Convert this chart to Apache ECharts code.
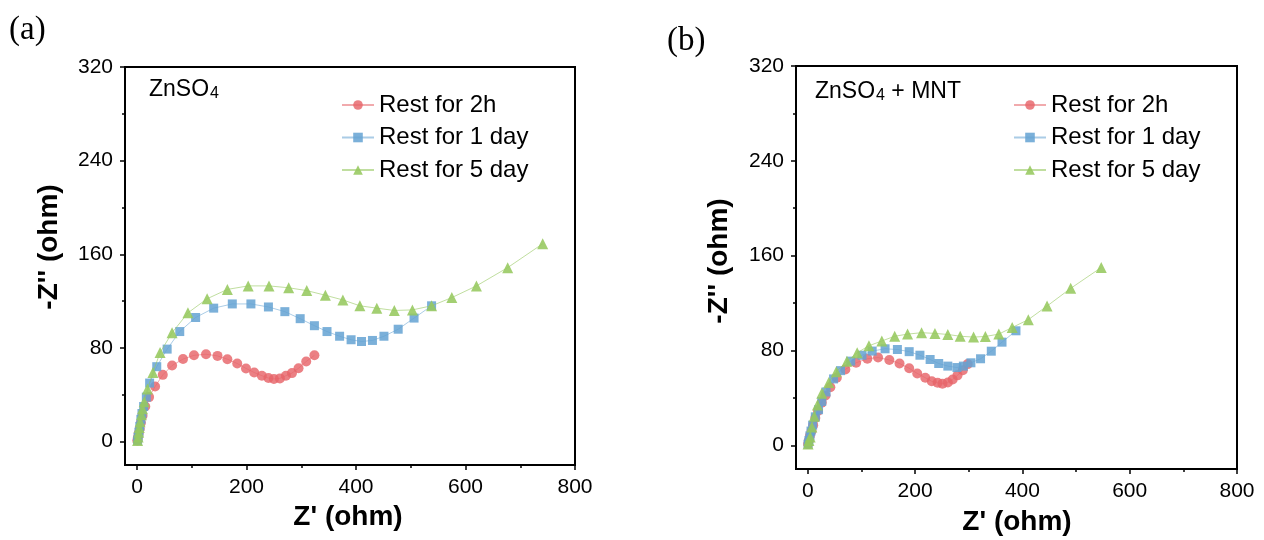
<!DOCTYPE html>
<html>
<head>
<meta charset="utf-8">
<script src="https://cdn.jsdelivr.net/npm/echarts@6/dist/echarts.min.js"></script>
<style>
html,body{margin:0;padding:0;background:#fff;}
#c{width:1264px;height:540px;}
</style>
</head>
<body>
<div id="c"></div>
<script>
// ---- data ----
const seriesNames = ['Rest for 2h', 'Rest for 1 day', 'Rest for 5 day'];
const xTicks = [0, 200, 400, 600, 800];
const xMinorTicks = [100, 300, 500, 700];
const yTicks = [0, 80, 160, 240, 320];
const yMinorTicks = [40, 120, 200, 280];

// (a) ZnSO4
const a2h = [[0.5,1],[1.5,3.5],[3,7],[5,11],[7,16],[10,22],[15,30],[22,38],[33,47],[47,57],[64,65],[84,70.5],[104,73.7],[126,74.6],[147,73.2],[165,70.4],[183,66.7],[199,62.5],[214,59],[228,56.3],[240,54.3],[250,53.5],[261,54],[272,56.3],[283,58.5],[295,62.7],[309,68.4],[324,73.7]];
const a1d = [[1,1],[2,4],[3.5,8],[5,13],[7,19],[9,24],[12,30],[17,38],[23,50],[36,64],[55,79],[78,94],[107,106],[140,114],[174,117.6],[208,117.6],[240,115],[270,111],[298,105],[324,99],[347,94],[370,90],[391,87],[410,85.5],[430,86.4],[451,90],[477,96],[506,105.5],[538,116]];
const a5d = [[1,1],[2,4],[3,8],[4,12],[5.5,17],[8,23],[10,28],[13,34],[19,45],[29,59],[42,76],[64,93],[93,110],[128,122],[165,130],[203,133],[241,133],[277,131.4],[310,129],[344,125],[376,121],[407,116],[438,114],[470,112],[503,112.5],[538,116],[575,123],[620,133],[677,148.6],[741,169]];

// (b) ZnSO4 + MNT
const b2h = [[0.5,1],[2,4],[4,8],[7,12],[10,17],[14,23],[19,29],[26,36],[33,42],[42,49],[54,57],[70,64],[90,69.6],[111,73],[131,74],[152,72],[171,69],[189,65],[204,60.6],[219,57],[231,54],[242,52.7],[251,52],[261,53],[270,55.5],[279,59],[289,63.4],[298,68.5]];
const b1d = [[0.5,1],[2,4],[4,8],[6,12],[9,17],[14,24],[20,30],[26,37],[34,45],[48,56],[61,63],[80,71],[101,76],[120,79.5],[144,81.4],[167,80.8],[189,79],[209,76],[228,72.4],[244,69],[261,66.8],[278,65.6],[290,66.8],[304,69.6],[322,73],[342,79.4],[362,87],[388,96.6]];
const b5d = [[0.5,1],[2,4],[4.4,7],[7.5,15.5],[12,24.5],[18,34],[26,44],[39,53],[53,62],[73,71],[92,78],[114,84],[138,88],[162,92],[186,93.8],[212,95],[237,94.4],[261,93.5],[284,92],[309,91.3],[331,91.8],[356,93.8],[381,99.4],[411,106],[446,117.5],[490,132.4],[547,150]];

// ---- styling ----
const FONT = 'Liberation Sans, Arial, sans-serif';
const styles = [
  {symbol:'circle', size:10, color:'rgba(230,100,105,0.82)', line:'rgba(230,100,105,0.55)'},
  {symbol:'rect', size:9, color:'rgba(100,162,210,0.85)', line:'rgba(100,162,210,0.55)'},
  {symbol:'triangle', size:11, color:'rgba(150,200,95,0.88)', line:'rgba(150,200,95,0.6)'}
];
const X_MIN = -22, X_MAX = 800, Y_MIN = -20, Y_MAX = 320;

const grids = [
  {left:125, top:67, width:450, height:398, show:true, borderColor:'#000', borderWidth:2, backgroundColor:'transparent'},
  {left:796, top:66, width:441, height:403, show:true, borderColor:'#000', borderWidth:2, backgroundColor:'transparent'}
];

function majorX(g){
  return {type:'value', gridIndex:g, position:'bottom', min:X_MIN, max:X_MAX,
    axisLine:{show:true, onZero:false, lineStyle:{color:'#000', width:2}},
    axisTick:{show:true, customValues:xTicks, length:5, lineStyle:{color:'#000', width:1.5}},
    axisLabel:{show:true, customValues:xTicks, margin:12, color:'#000', fontSize:21, fontFamily:FONT},
    splitLine:{show:false}};
}
function minorX(g){
  return {type:'value', gridIndex:g, position:'bottom', min:X_MIN, max:X_MAX,
    axisLine:{show:false, onZero:false},
    axisTick:{show:true, customValues:xMinorTicks, length:3, lineStyle:{color:'#000', width:1.5}},
    axisLabel:{show:false}, splitLine:{show:false}};
}
function majorY(g){
  return {type:'value', gridIndex:g, position:'left', min:Y_MIN, max:Y_MAX,
    axisLine:{show:true, onZero:false, lineStyle:{color:'#000', width:2}},
    axisTick:{show:true, customValues:yTicks, length:5, lineStyle:{color:'#000', width:1.5}},
    axisLabel:{show:true, customValues:yTicks, margin:12, color:'#000', fontSize:21, fontFamily:FONT},
    splitLine:{show:false}};
}
function minorY(g){
  return {type:'value', gridIndex:g, position:'left', min:Y_MIN, max:Y_MAX,
    axisLine:{show:false, onZero:false},
    axisTick:{show:true, customValues:yMinorTicks, length:3, lineStyle:{color:'#000', width:1.5}},
    axisLabel:{show:false}, splitLine:{show:false}};
}

const panelData = [[a2h, a1d, a5d], [b2h, b1d, b5d]];
const series = [];
panelData.forEach((arrs, g) => {
  arrs.forEach((d, i) => {
    const s = styles[i];
    series.push({
      type:'line', name:seriesNames[i], xAxisIndex:g*2, yAxisIndex:g*2,
      data:d, symbol:s.symbol, symbolSize:s.size, showSymbol:true,
      itemStyle:{color:s.color, borderWidth:0},
      lineStyle:{color:s.line, width:1},
      emphasis:{disabled:true}, animation:false, z:2+i
    });
  });
});

function legend(left){
  return {orient:'vertical', left:left, top:88, itemWidth:32, itemHeight:12, itemGap:8.5,
    data:seriesNames, selectedMode:false,
    textStyle:{color:'#000', fontSize:24, fontFamily:FONT, lineHeight:22}};
}

function yTitle(x, y){
  return {type:'text', x:x, y:y, rotation:Math.PI/2,
    style:{text:"-Z'' (ohm)", fontSize:28, fontWeight:'bold', fontFamily:FONT, fill:'#000', align:'center', verticalAlign:'middle'}};
}
function xTitle(x, y){
  return {type:'text', x:x, y:y,
    style:{text:"Z' (ohm)", fontSize:28, fontWeight:'bold', fontFamily:FONT, fill:'#000', align:'center', verticalAlign:'middle'}};
}
const richSub = {
  a:{fontSize:23, fontFamily:FONT, lineHeight:24, verticalAlign:'top', fill:'#000'},
  b:{fontSize:16, fontFamily:FONT, lineHeight:16, padding:[13,0,0,1], verticalAlign:'bottom', fill:'#000'}
};

const option = {
  backgroundColor:'#fff',
  animation:false,
  grid:grids,
  xAxis:[majorX(0), minorX(0), majorX(1), minorX(1)],
  yAxis:[majorY(0), minorY(0), majorY(1), minorY(1)],
  legend:[legend(336), legend(1008)],
  series:series,
  graphic:[
    {type:'text', left:9, top:14, style:{text:'(a)', fontSize:33, fontFamily:'Liberation Serif, Times New Roman, serif', fill:'#000'}},
    {type:'text', left:667, top:25, style:{text:'(b)', fontSize:33, fontFamily:'Liberation Serif, Times New Roman, serif', fill:'#000'}},
    yTitle(49, 247), yTitle(719, 261),
    xTitle(348, 517), xTitle(1017, 522),
    {type:'text', x:149, y:78, style:{text:'{a|ZnSO}{b|4}', rich:richSub}},
    {type:'text', x:815, y:80, style:{text:'{a|ZnSO}{b|4}{a| + MNT}', rich:richSub}}
  ]
};

const chart = echarts.init(document.getElementById('c'), null, {renderer:'canvas'});
chart.setOption(option);
</script>
</body>
</html>
